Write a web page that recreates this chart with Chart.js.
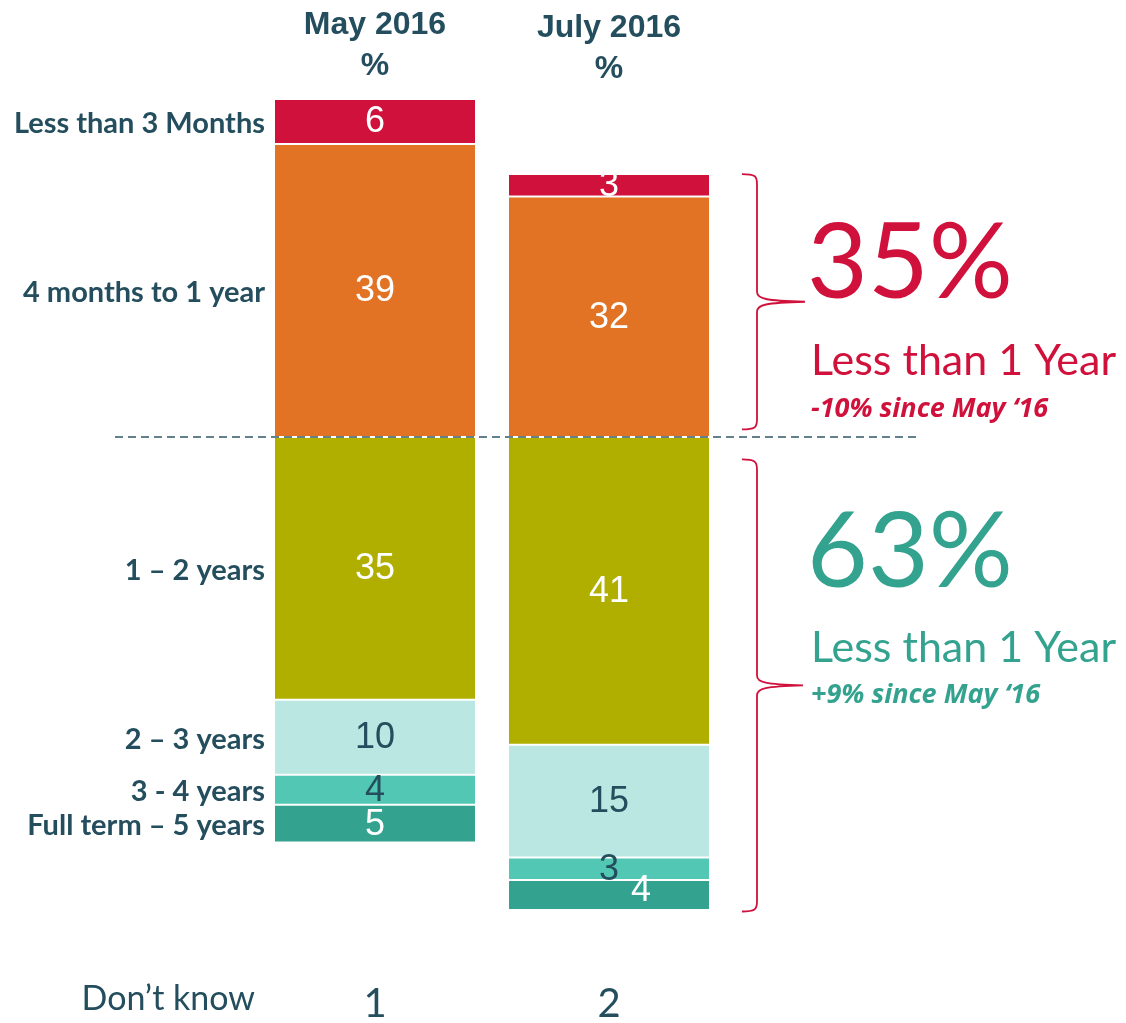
<!DOCTYPE html>
<html><head><meta charset="utf-8">
<script src="https://cdn.jsdelivr.net/npm/chart.js@4"></script>
<style>html,body{margin:0;padding:0;background:#fff;}#wrap{width:1126px;height:1023px;position:relative;}</style>
</head><body><div id="wrap"><canvas id="c" width="1126" height="1023"></canvas></div>
<script>
// ---- data ----
const categories = ['May 2016', 'July 2016'];
const lessThan3Months = [6, 3];
const fourMonthsTo1Year = [39, 32];
const oneToTwoYears = [35, 41];
const twoToThreeYears = [10, 15];
const threeToFourYears = [4, 3];
const fullTermFiveYears = [5, 4];
const dontKnow = [1, 2];
const upperLabels = ['4 months to 1 year', 'Less than 3 Months'];
const lowerLabels = ['1 \u2013 2 years', '2 \u2013 3 years', '3 - 4 years', 'Full term \u2013 5 years'];
const summaryUnder1 = { value: '35%', label: 'Less than 1 Year', change: '-10% since May \u201816' };
const summaryOver1 = { value: '63%', label: 'Less than 1 Year', change: '+9% since May \u201816' };

const DARK = '#244E5E', RED = '#D0113B', TEAL = '#33A28F';
const colors = ['#E27324', '#D0113B', '#B0AF00', '#BAE7E1', '#52C8B4', '#33A28F'];
const labelColors = ['#fff', '#fff', '#fff', DARK, DARK, '#fff'];

const seriesData = [fourMonthsTo1Year, lessThan3Months,
  oneToTwoYears.map(v => -v), twoToThreeYears.map(v => -v),
  threeToFourYears.map(v => -v), fullTermFiveYears.map(v => -v)];
const seriesNames = [upperLabels[0], upperLabels[1], ...lowerLabels];

const datasets = seriesData.map((d, i) => ({
  label: seriesNames[i], data: d, backgroundColor: colors[i],
  borderColor: '#ffffff', borderWidth: 1, borderSkipped: false,
  barPercentage: 202 / 234, categoryPercentage: 1
}));

const upperTotal = Math.max(...categories.map((_, i) => fourMonthsTo1Year[i] + lessThan3Months[i]));
const lowerTotal = Math.max(...categories.map((_, i) => oneToTwoYears[i] + twoToThreeYears[i] + threeToFourYears[i] + fullTermFiveYears[i]));

function brace(ctx, x, yTop, yBot, tipX) {
  const ym = (yTop + yBot) / 2;
  const vx = x + 15;
  ctx.beginPath();
  ctx.moveTo(x, yTop);
  ctx.bezierCurveTo(vx - 2, yTop, vx, yTop + 2, vx, yTop + 10);
  ctx.lineTo(vx, ym - 10);
  ctx.bezierCurveTo(vx, ym - 3, vx + 8, ym - 1, tipX, ym);
  ctx.moveTo(tipX, ym);
  ctx.bezierCurveTo(vx + 8, ym + 1, vx, ym + 3, vx, ym + 10);
  ctx.lineTo(vx, yBot - 10);
  ctx.bezierCurveTo(vx, yBot - 2, vx - 2, yBot, x, yBot);
  ctx.stroke();
}

const overlay = {
  id: 'overlay',
  afterDatasetsDraw(chart) {
    const ctx = chart.ctx;
    const xs = chart.scales.x, ys = chart.scales.y;
    ctx.save();
    // dashed zero line
    const y0 = ys.getPixelForValue(0);
    ctx.strokeStyle = '#2F5868'; ctx.lineWidth = 1.5; ctx.setLineDash([8, 5]);
    ctx.beginPath(); ctx.moveTo(115, y0); ctx.lineTo(920, y0); ctx.stroke();
    ctx.setLineDash([]);

    // segment value labels
    ctx.textAlign = 'center'; ctx.textBaseline = 'middle';
    ctx.font = '36px "Liberation Sans", Arial, sans-serif';
    chart.data.datasets.forEach((ds, di) => {
      const meta = chart.getDatasetMeta(di);
      meta.data.forEach((el, i) => {
        const h = Math.abs(el.base - el.y);
        let cx = el.x, cy = (el.y + el.base) / 2;
        if (di >= 3 && h < 32) {
          const prev = chart.getDatasetMeta(di - 1).data[i];
          if (Math.abs(prev.base - prev.y) < 32) { cx += 32; cy -= 5; }
        }
        ctx.fillStyle = labelColors[di];
        ctx.fillText(String(Math.abs(ds.data[i])), cx, cy + 1);
      });
    });

    // left row labels (aligned to May bar segments)
    ctx.textAlign = 'right'; ctx.fillStyle = DARK;
    ctx.font = 'bold 29px Lato, "Open Sans", sans-serif';
    chart.data.datasets.forEach((ds, di) => {
      const el = chart.getDatasetMeta(di).data[0];
      ctx.fillText(ds.label, el.x - el.width / 2 - 9, (el.y + el.base) / 2 + 2);
    });

    // column headers
    ctx.textAlign = 'center'; ctx.textBaseline = 'alphabetic';
    ctx.font = 'bold 32px "Liberation Sans Narrow", "Liberation Sans", Arial, sans-serif';
    categories.forEach((c, i) => {
      const x = xs.getPixelForValue(i);
      ctx.fillText(c, x, 34 + i * 3);
      ctx.fillText('%', x, 75 + i * 3);
    });

    // Don't know row
    ctx.font = '34px Lato, sans-serif';
    ctx.textAlign = 'right';
    ctx.fillText('Don\u2019t know', 255, 1010);
    ctx.textAlign = 'center';
    ctx.font = '40px Lato, sans-serif';
    dontKnow.forEach((v, i) => ctx.fillText(String(v), xs.getPixelForValue(i), 1017));

    // braces
    const right = chart.getDatasetMeta(0).data[1];
    const bx = right.x + right.width / 2 + 32;
    ctx.strokeStyle = RED; ctx.lineWidth = 1.8;
    brace(ctx, bx, ys.getPixelForValue(upperTotal - 10), ys.getPixelForValue(1), bx + 63);
    brace(ctx, bx, ys.getPixelForValue(-3), ys.getPixelForValue(-lowerTotal - 0.2), bx + 61);

    // summaries
    const tx = 811;
    ctx.textAlign = 'left';
    [[summaryUnder1, RED, 298, 375, 417], [summaryOver1, TEAL, 587, 662, 703]].forEach(([s, col, b1, b2, b3]) => {
      ctx.fillStyle = col;
      ctx.font = '105px Lato, sans-serif'; ctx.fillText(s.value, tx - 4, b1);
      ctx.font = '43px Lato, sans-serif'; ctx.fillText(s.label, tx, b2);
      ctx.font = 'italic bold 27px "Open Sans", Lato, sans-serif'; ctx.fillText(s.change, tx, b3);
    });
    ctx.restore();
  }
};

new Chart(document.getElementById('c'), {
  type: 'bar',
  data: { labels: categories, datasets },
  options: {
    responsive: false, animation: false, events: [],
    layout: { padding: { top: 99, bottom: 113, left: 258, right: 400 } },
    plugins: { legend: { display: false }, tooltip: { enabled: false } },
    scales: {
      x: { stacked: true, display: false },
      y: { stacked: true, display: false, min: -lowerTotal, max: upperTotal }
    }
  },
  plugins: [overlay]
});
</script></body></html>
